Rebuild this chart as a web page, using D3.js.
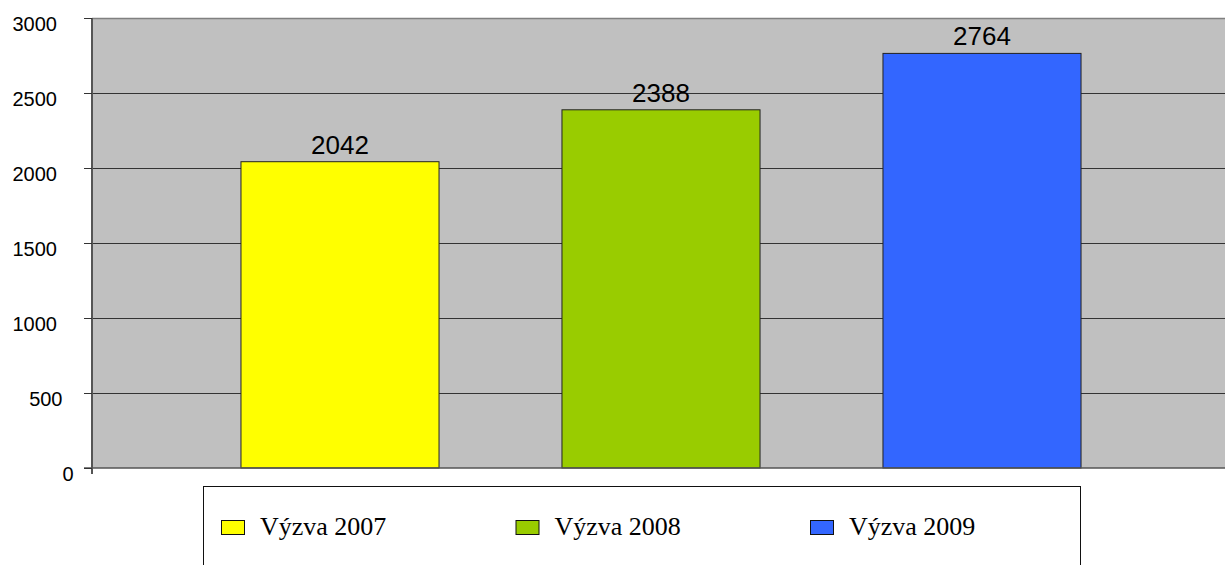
<!DOCTYPE html>
<html>
<head>
<meta charset="utf-8">
<script src="https://cdn.jsdelivr.net/npm/d3@7"></script>
<style>
  body { margin: 0; background: #fff; }
  svg { display: block; }
</style>
</head>
<body>
<div id="chart"></div>
<script>
// data
var categories = ["Výzva 2007", "Výzva 2008", "Výzva 2009"];
var values = [2042, 2388, 2764];
var colors = ["#FFFF00", "#99CC00", "#3366FF"];
var yTicks = [0, 500, 1000, 1500, 2000, 2500, 3000];

var W = 1225, H = 565;
var margin = {top: 18, left: 92, bottom: 97};
var plotRight = 1240;   // plot area runs off the right edge
var plotH = H - margin.top - margin.bottom;

var svg = d3.select("#chart").append("svg")
    .attr("width", W)
    .attr("height", H);

var y = d3.scaleLinear().domain([0, 3000]).range([plotH, 0]);
var x = d3.scaleBand()
    .domain(categories)
    .range([179.5 - margin.left, 1142.5 - margin.left])
    .paddingInner(0.383)
    .paddingOuter(0.1915);

var g = svg.append("g")
    .attr("transform", "translate(" + margin.left + "," + margin.top + ")");

// plot background
g.append("rect")
    .attr("x", 0).attr("y", 0)
    .attr("width", plotRight - margin.left)
    .attr("height", plotH)
    .attr("fill", "#C0C0C0");

// top border
g.append("line")
    .attr("x1", 0).attr("x2", plotRight - margin.left)
    .attr("y1", 0.5).attr("y2", 0.5)
    .attr("stroke", "#808080").attr("stroke-width", 1.5);

// gridlines
g.append("g")
    .selectAll("line")
    .data(yTicks.filter(function(d) { return d > 0 && d < 3000; }))
    .enter().append("line")
    .attr("x1", 0).attr("x2", plotRight - margin.left)
    .attr("y1", function(d) { return Math.round(y(d)) + 0.5; })
    .attr("y2", function(d) { return Math.round(y(d)) + 0.5; })
    .attr("stroke", "#333").attr("stroke-width", 1);

// bars
g.selectAll(".bar")
    .data(values)
    .enter().append("rect")
    .attr("class", "bar")
    .attr("x", function(d, i) { return x(categories[i]); })
    .attr("y", function(d) { return y(d); })
    .attr("width", x.bandwidth())
    .attr("height", function(d) { return plotH - y(d); })
    .attr("fill", function(d, i) { return colors[i]; })
    .attr("stroke", "#222").attr("stroke-width", 1);

// value labels
g.selectAll(".val")
    .data(values)
    .enter().append("text")
    .attr("class", "val")
    .attr("x", function(d, i) { return x(categories[i]) + x.bandwidth() / 2; })
    .attr("y", function(d) { return y(d) - 8; })
    .attr("text-anchor", "middle")
    .attr("font-family", "'Liberation Sans', Arial, sans-serif")
    .attr("font-size", "26px")
    .attr("fill", "#000")
    .text(function(d) { return d; });

// bottom axis line
g.append("line")
    .attr("x1", -8).attr("x2", plotRight - margin.left)
    .attr("y1", plotH).attr("y2", plotH)
    .attr("stroke", "#555").attr("stroke-width", 1.5);

// y axis
var yAxis = g.append("g")
    .call(d3.axisLeft(y).tickValues(yTicks).tickFormat(d3.format("d")).tickSize(8).tickPadding(0));
yAxis.select(".domain")
    .attr("d", "M0,0V" + (plotH + 6))
    .attr("stroke", "#555").attr("stroke-width", 2);
yAxis.selectAll(".tick line").attr("stroke", "#333");
yAxis.selectAll(".tick text")
    .attr("font-family", "'Liberation Sans', Arial, sans-serif")
    .attr("font-size", "20px")
    .attr("fill", "#000")
    .attr("x", function(d) { return -35 + (4 - String(d).length) * 5.5; })
    .attr("dy", "0.62em");

// legend
var legend = svg.append("g");
legend.append("rect")
    .attr("x", 203.5).attr("y", 486.5)
    .attr("width", 877).attr("height", 100)
    .attr("fill", "#fff")
    .attr("stroke", "#111").attr("stroke-width", 1);

var item = legend.selectAll(".item")
    .data(categories)
    .enter().append("g")
    .attr("class", "item")
    .attr("transform", function(d, i) { return "translate(" + (221 + i * 294.5) + ",520)"; });

item.append("rect")
    .attr("x", 0.5).attr("y", 0.5)
    .attr("width", 23).attr("height", 14)
    .attr("fill", function(d, i) { return colors[i]; })
    .attr("stroke", "#111").attr("stroke-width", 1);

item.append("text")
    .attr("x", 39).attr("y", 15)
    .attr("font-family", "'Liberation Serif', 'Times New Roman', serif")
    .attr("font-size", "26px")
    .attr("fill", "#000")
    .text(function(d) { return d; });
</script>
</body>
</html>
